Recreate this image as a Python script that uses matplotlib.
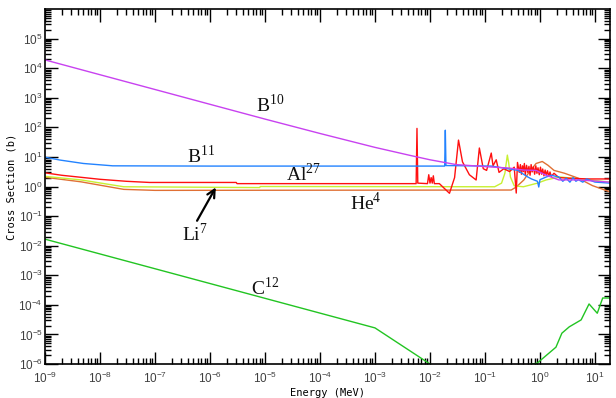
import matplotlib
matplotlib.use("Agg")
import matplotlib.pyplot as plt
from matplotlib.ticker import FixedLocator, LogLocator, FuncFormatter, NullFormatter
import numpy as np

# ---------------- data (Energy in MeV, cross section in barns) ----------------
b10_E = [1e-9, 1e-8, 1e-7, 1e-6, 1e-5, 1e-4, 1e-3, 4.3e-3, 1e-2, 3e-2, 0.12, 0.275, 0.5, 0.85, 1.3, 2.2, 5.2, 18.7]
b10_s = [1.9e4, 6.0e3, 1.9e3, 600, 190, 62, 21, 11.3, 8.0, 5.5, 4.6, 4.2, 3.6, 3.5, 2.4, 1.67, 1.67, 1.4]

b11_E = [1e-9, 1.9e-9, 5e-9, 1.7e-8, 1e-6, 1e-3, 0.0185, 0.019, 0.0195, 0.05, 0.13, 0.22, 0.4,
         0.5, 0.6, 0.7, 0.9, 0.95, 1.0, 1.3, 1.6, 2.2, 2.6, 3.0, 3.5, 4.0, 4.5, 5.0, 6.0, 7.0, 10.0, 18.7]
b11_s = [9.8, 7.8, 6.0, 5.0, 4.9, 4.9, 4.9, 80, 5.1, 5.0, 4.9, 4.2, 3.5,
         2.6, 2.1, 1.8, 1.5, 0.96, 1.7, 2.1, 2.4, 2.1, 1.5, 1.9, 1.4, 2.0, 1.5, 1.7, 1.4, 1.8, 1.41, 1.3]

al27_E = [1e-9, 2e-9, 1e-8, 3e-8, 8e-8, 3e-6, 3.1e-6, 5.6e-3, 5.8e-3, 6.0e-3, 9.0e-3, 9.5e-3, 1.0e-2,
          1.05e-2, 1.1e-2, 1.15e-2, 1.2e-2, 0.0148, 0.0226, 0.028, 0.033, 0.039, 0.052, 0.069, 0.079,
          0.093, 0.107, 0.13, 0.14, 0.16, 0.18, 0.22, 0.28, 0.34, 0.37, 0.39,
          0.42, 0.44, 0.46, 0.48, 0.50, 0.52, 0.54, 0.57, 0.60, 0.63, 0.66, 0.69, 0.72, 0.76,
          0.80, 0.84, 0.88, 0.92, 0.97, 1.02, 1.07, 1.12, 1.18, 1.24, 1.30, 1.37, 1.44, 1.52, 1.60,
          1.8, 2.2, 3.4, 7.8, 18.7]
al27_s = [2.9, 2.4, 1.75, 1.5, 1.37, 1.37, 1.25, 1.25, 92, 1.3, 1.25, 2.5, 1.3,
          2.0, 1.3, 2.3, 1.25, 1.25, 0.59, 2.0, 37, 6.8, 2.5, 1.66, 20,
          4.0, 3.5, 13.5, 5.0, 8.0, 3.0, 4.0, 3.2, 4.5, 0.6, 6.5,
          3.0, 5.5, 2.6, 5.0, 3.2, 6.0, 2.5, 5.2, 3.0, 4.8, 2.4, 5.5, 3.1, 4.6,
          2.6, 5.0, 2.8, 4.3, 2.5, 4.5, 2.6, 3.9, 2.3, 3.6, 2.4, 3.4, 2.2, 3.1, 2.2,
          2.8, 2.0, 1.9, 1.8, 1.8]

li7_E = [1e-9, 4.5e-9, 2.7e-8, 8e-6, 8.2e-6, 0.15, 0.2, 0.23, 0.255, 0.27, 0.29, 0.34, 0.5, 0.9, 1.3, 2.3, 4.0, 18.7]
li7_s = [2.2, 1.67, 0.98, 0.92, 1.0, 0.98, 1.3, 2.8, 11.5, 6.2, 2.1, 1.05, 0.98, 1.3, 1.67, 2.1, 1.9, 1.41]

he4_E = [1e-9, 4.5e-9, 2.7e-8, 1e-7, 0.3, 0.37, 0.51, 0.63, 0.85, 1.1, 1.4, 1.8, 2.8, 5.0, 9.0, 18.7]
he4_s = [2.05, 1.44, 0.8, 0.74, 0.76, 0.96, 1.67, 3.0, 6.0, 7.0, 5.2, 3.5, 2.8, 1.9, 1.07, 0.66]

c12_E = [1e-9, 1e-6, 1e-3, 1e-2, 0.03, 0.3, 0.48, 0.89, 1.95, 2.5, 3.4, 5.6, 7.8, 11.0, 13.8, 18.7]
c12_s = [0.0166, 5.25e-4, 1.66e-5, 1e-6, 3e-7, 3e-7, 8.5e-7, 1.07e-6, 3.7e-6, 1.1e-5, 1.8e-5, 3.1e-5, 1.07e-4, 5.2e-5, 1.7e-4, 1.7e-4]

x_decades = list(range(-9, 2))
y_decades = list(range(-6, 6))

# ---------------- figure ----------------
fig = plt.figure(figsize=(6.16, 3.98), dpi=100)
ax = fig.add_axes([45 / 616, 34 / 398, 565 / 616, 355 / 398])
ax.set_xscale("log")
ax.set_yscale("log")
ax.set_xlim(1e-9, 10 ** 1.273)
ax.set_ylim(1e-6, 1e6)

lw = 1.0
ax.plot(he4_E, he4_s, color="#e07034", lw=lw)
ax.plot(li7_E, li7_s, color="#c8f032", lw=lw)
ax.plot(al27_E, al27_s, color="#ff1010", lw=lw)
ax.plot(b11_E, b11_s, color="#2383ff", lw=lw)
ax.plot(b10_E, b10_s, color="#c842f0", lw=lw)
ax.plot(c12_E, c12_s, color="#22c422", lw=lw)

# ticks
fmt = FuncFormatter(lambda v, p: r"$\mathdefault{10^{%d}}$" % int(round(np.log10(v))))
ax.xaxis.set_major_locator(FixedLocator([10.0 ** d for d in x_decades]))
ax.yaxis.set_major_locator(FixedLocator([10.0 ** d for d in y_decades]))
ax.xaxis.set_major_formatter(fmt)
ax.yaxis.set_major_formatter(fmt)
ax.xaxis.set_minor_locator(LogLocator(base=10, subs=np.arange(2, 10), numticks=100))
ax.yaxis.set_minor_locator(LogLocator(base=10, subs=np.arange(2, 10), numticks=100))
ax.xaxis.set_minor_formatter(NullFormatter())
ax.yaxis.set_minor_formatter(NullFormatter())
ax.tick_params(which="both", direction="in", top=True, right=True, width=1.0, color="black")
ax.tick_params(which="major", length=9)
ax.tick_params(which="minor", length=4.5)
ax.tick_params(axis="x", which="major", pad=5, labelsize=8.5, labelcolor="#404040")
ax.tick_params(axis="y", which="major", pad=1.5, labelsize=8.5, labelcolor="#404040")
for lab in ax.get_xticklabels() + ax.get_yticklabels():
    lab.set_fontfamily("Liberation Sans")
for sp in ax.spines.values():
    sp.set_linewidth(1.2)

ax.set_xlabel("Energy (MeV)", fontfamily="DejaVu Sans Mono", fontsize=7.5, labelpad=1)
ax.set_ylabel("Cross Section (b)", fontfamily="DejaVu Sans Mono", fontsize=7.5)
ax.yaxis.set_label_coords(-0.05, 0.5)

# labels
serif = "Liberation Serif"
labels = [
    ("B", "10", 10 ** -5.16, 10 ** 2.51),
    ("B", "11", 10 ** -6.41, 10 ** 0.79),
    ("Al", "27", 10 ** -4.62, 10 ** 0.18),
    ("He", "4", 10 ** -3.46, 10 ** -0.80),
    ("Li", "7", 10 ** -6.50, 10 ** -1.84),
    ("C", "12", 10 ** -5.25, 10 ** -3.67),
]
for base, sup, xe, ys in labels:
    ax.text(xe, ys, base + r"$^{\mathdefault{%s}}$" % sup, fontfamily=serif, fontsize=14,
            ha="left", va="baseline", color="#111111")

ax.annotate("", xy=(10 ** -5.87, 10 ** 0.05), xytext=(10 ** -6.26, 10 ** -1.24),
            arrowprops=dict(arrowstyle="->", lw=1.6, color="black", mutation_scale=14))

fig.savefig("out.png", dpi=100)
